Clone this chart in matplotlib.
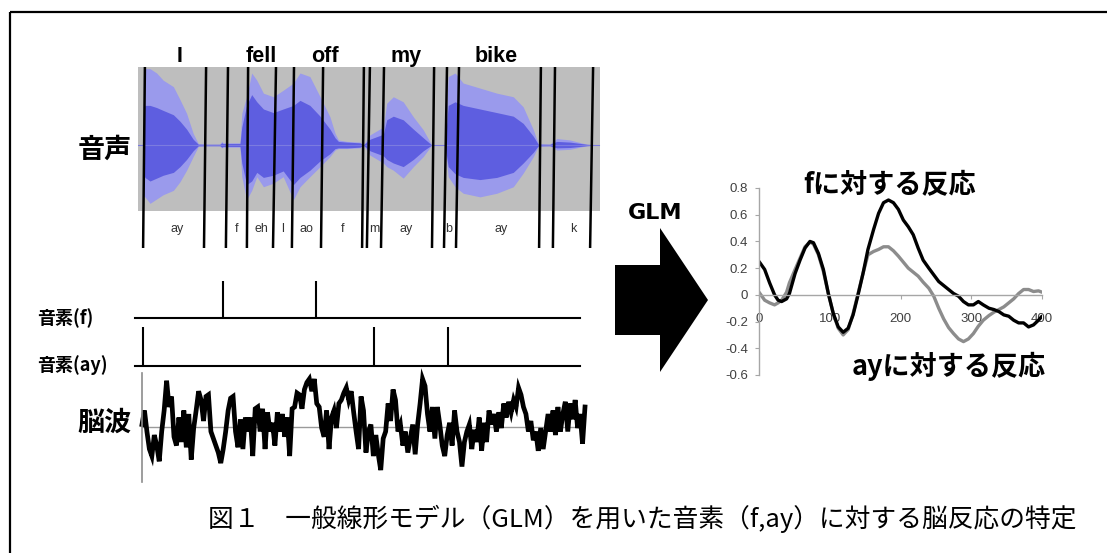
import matplotlib

matplotlib.use("Agg")
import matplotlib.pyplot as plt
import numpy as np
from matplotlib.patches import Polygon

plt.rcParams["font.family"] = ["Noto Sans CJK JP", "DejaVu Sans"]

W, H = 1107, 553

# --- 音声: 包絡 (時間 s, 正規化振幅) ---
wave_t = [0.018, 0.023, 0.040, 0.062, 0.084, 0.118, 0.140, 0.162, 0.184, 0.201,
          0.229, 0.273, 0.279, 0.284, 0.340, 0.346, 0.362, 0.379, 0.396, 0.418,
          0.451, 0.484, 0.518, 0.540, 0.573, 0.607, 0.640, 0.657, 0.668, 0.696,
          0.740, 0.751, 0.773, 0.818, 0.829, 0.851, 0.884, 0.918, 0.951, 0.979,
          1.023, 1.034, 1.057, 1.084, 1.140, 1.196, 1.251, 1.284, 1.318, 1.334,
          1.373, 1.396, 1.440, 1.496, 1.540]
outer_up = [0.95, 1.06, 1.06, 1.00, 0.90, 0.81, 0.63, 0.44, 0.16, 0.02,
            0.01, 0.01, 0.05, 0.03, 0.03, 0.44, 0.67, 1.00, 0.90, 0.72,
            0.67, 0.76, 0.86, 1.00, 0.95, 0.67, 0.39, 0.16, 0.07, 0.05,
            0.04, 0.00, 0.14, 0.25, 0.58, 0.67, 0.60, 0.39, 0.21, 0.00,
            0.00, 0.95, 1.00, 0.86, 0.79, 0.72, 0.67, 0.53, 0.21, 0.02,
            0.01, 0.09, 0.07, 0.01, 0.00]
outer_lo = [-0.70, -0.72, -0.81, -0.75, -0.69, -0.63, -0.51, -0.35, -0.16, -0.02,
            -0.01, -0.01, -0.04, -0.03, -0.03, -0.44, -0.76, -0.63, -0.44, -0.58,
            -0.53, -0.44, -0.76, -0.58, -0.44, -0.30, -0.16, -0.07, -0.05, -0.05,
            -0.04, 0.00, -0.14, -0.25, -0.30, -0.35, -0.46, -0.30, -0.16, 0.00,
            0.00, -0.44, -0.58, -0.67, -0.72, -0.67, -0.58, -0.39, -0.16, -0.02,
            -0.01, -0.07, -0.06, -0.01, 0.00]
inner_up = [0.45, 0.55, 0.55, 0.52, 0.48, 0.42, 0.33, 0.22, 0.08, 0.01,
            0.01, 0.01, 0.03, 0.02, 0.02, 0.25, 0.55, 0.70, 0.60, 0.50,
            0.45, 0.50, 0.55, 0.62, 0.55, 0.40, 0.22, 0.10, 0.05, 0.04,
            0.03, 0.00, 0.08, 0.15, 0.35, 0.40, 0.35, 0.22, 0.10, 0.00,
            0.00, 0.55, 0.60, 0.55, 0.50, 0.45, 0.40, 0.30, 0.12, 0.01,
            0.01, 0.05, 0.04, 0.01, 0.00]
inner_lo = [-0.38, -0.45, -0.50, -0.46, -0.42, -0.38, -0.30, -0.20, -0.08, -0.01,
            -0.01, -0.01, -0.03, -0.02, -0.02, -0.25, -0.55, -0.50, -0.38, -0.45,
            -0.42, -0.36, -0.55, -0.45, -0.35, -0.22, -0.12, -0.05, -0.04, -0.04,
            -0.03, 0.00, -0.08, -0.15, -0.20, -0.25, -0.30, -0.20, -0.08, 0.00,
            0.00, -0.30, -0.40, -0.45, -0.48, -0.45, -0.38, -0.25, -0.10, -0.01,
            -0.01, -0.04, -0.035, -0.01, 0.00]

# 音素境界 (上端 / 下端, s)
bound_top = [0.023, 0.227, 0.300, 0.367, 0.460, 0.520, 0.617, 0.753,
             0.773, 0.820, 0.987, 1.030, 1.070, 1.343, 1.390, 1.517]
bound_bot = [0.017, 0.220, 0.293, 0.363, 0.450, 0.513, 0.610, 0.747,
             0.763, 0.810, 0.980, 1.020, 1.060, 1.337, 1.383, 1.507]

words = ["I", "fell", "off", "my", "bike"]
word_t = [0.137, 0.41, 0.623, 0.893, 1.193]
phonemes = ["ay", "f", "eh", "l", "ao", "f", "m", "ay", "b", "ay", "k"]
phone_t = [0.13, 0.327, 0.41, 0.483, 0.563, 0.683, 0.787, 0.893, 1.037, 1.21, 1.45]

# 音素のオンセット (s)
f_onsets = [0.305, 0.626]
ay_onsets = [0.028, 0.827, 1.083]

# 脳波 (µV, 等間隔サンプル)
eeg = [0.7, 4.7, -1.3, -6.3, -8.3, -2.3, -5.3, -9.8, -1.3, 4.7,
       13.2, 5.7, 8.7, -2.8, -5.3, 2.7, -4.3, 4.7, -5.8, 3.7,
       -9.3, -0.3, 4.7, 10.2, 7.7, 1.7, 8.7, 9.2, -1.3, -3.3,
       -5.3, -7.3, -10.3, -6.3, -1.3, 4.7, 8.2, 8.7, -1.3, -5.8,
       2.2, -6.3, 2.7, -1.3, 2.7, -8.3, 5.2, 5.7, -1.3, 5.2,
       -6.3, 4.2, -1.3, 1.2, -5.3, 4.2, -1.3, 3.7, -2.8, 2.7,
       -8.3, 5.2, 5.7, 9.7, 9.2, 5.2, 10.7, 12.7, 13.7, 10.2,
       13.7, 6.7, 5.7, -0.3, -2.8, 4.7, -6.3, 2.7, 4.7, -0.3,
       6.7, 7.7, 9.7, 11.2, 7.7, 10.2, 4.2, -1.3, -6.3, 8.7,
       4.7, -7.3, -1.3, 0.7, -8.3, -2.3, -7.8, -12.3, -3.3, -1.3,
       6.7, 1.7, 10.7, 7.7, -1.3, 0.7, -5.3, -1.3, -7.3, -3.3,
       0.7, -7.8, 0.7, 6.7, 13.7, 11.7, 3.7, -1.3, 5.7, -3.3,
       5.7, 0.7, -5.3, -8.3, -2.3, 1.2, -5.3, 4.7, -1.3, -4.3,
       -11.3, -4.3, -1.3, 0.7, -6.3, -0.8, -4.3, 2.7, -6.8, 1.2,
       -4.3, 4.7, 0.7, 3.7, -1.3, 4.2, -0.3, 6.7, 2.7, 7.2,
       4.2, 7.7, 5.7, 11.2, 9.2, 5.7, 3.7, -1.3, 1.7, -3.8,
       -1.3, -6.8, -0.3, -6.3, -1.3, 3.7, -1.3, 4.7, -2.3, 5.7,
       -1.3, 3.7, 7.2, -1.3, 6.7, 2.2, 7.7, -0.3, 3.7, -4.8,
       5.7]

# GLM で推定した応答 (ms)
resp_ms = [0, 8, 15, 22, 27, 32, 39, 43, 51, 58,
           65, 72, 77, 84, 91, 98, 105, 112, 119, 126,
           133, 140, 147, 154, 162, 169, 176, 183, 190, 197,
           204, 211, 218, 225, 232, 240, 247, 254, 261, 268,
           275, 282, 289, 296, 303, 310, 317, 325, 332, 339,
           346, 353, 360, 367, 374, 381, 388, 395, 400]
f_resp = [0.25, 0.19, 0.09, 0.00, -0.04, -0.05, -0.03, 0.01, 0.16, 0.26,
          0.35, 0.40, 0.39, 0.31, 0.19, 0.01, -0.14, -0.24, -0.28, -0.25,
          -0.15, 0.00, 0.16, 0.34, 0.49, 0.61, 0.69, 0.71, 0.69, 0.64,
          0.56, 0.51, 0.45, 0.35, 0.26, 0.20, 0.15, 0.10, 0.07, 0.04,
          0.01, -0.01, -0.05, -0.075, -0.075, -0.05, -0.075, -0.10, -0.11, -0.125,
          -0.15, -0.16, -0.19, -0.21, -0.21, -0.24, -0.225, -0.19, -0.16]
ay_resp = [0.02, -0.04, -0.06, -0.075, -0.06, -0.04, 0.02, 0.09, 0.19, 0.275,
           0.36, 0.395, 0.38, 0.30, 0.175, 0.01, -0.14, -0.25, -0.30, -0.26,
           -0.14, 0.01, 0.16, 0.30, 0.325, 0.34, 0.36, 0.36, 0.33, 0.29,
           0.245, 0.20, 0.17, 0.14, 0.095, 0.05, -0.01, -0.10, -0.18, -0.245,
           -0.29, -0.33, -0.35, -0.33, -0.29, -0.235, -0.19, -0.155, -0.13, -0.11,
           -0.09, -0.06, -0.03, 0.01, 0.04, 0.04, 0.025, 0.03, 0.02]
y_ticks = [-0.6, -0.4, -0.2, 0, 0.2, 0.4, 0.6, 0.8]
y_ticklabels = ["-0.6", "-0.4", "-0.2", "0", "0.2", "0.4", "0.6", "0.8"]
x_ticks = [0, 100, 200, 300, 400]


def px_axes(fig, x0, y0, x1, y1):
    """ピクセル座標 (左上原点) で axes を置く"""
    return fig.add_axes([x0 / W, 1 - y1 / H, (x1 - x0) / W, (y1 - y0) / H])


fig = plt.figure(figsize=(W / 100, H / 100), dpi=100)

# 枠と大きなラベル用のオーバーレイ
ov = fig.add_axes([0, 0, 1, 1])
ov.set_xlim(0, W)
ov.set_ylim(H, 0)
ov.axis("off")
ov.plot([10, W], [12, 12], color="black", lw=1.6, solid_capstyle="butt")
ov.plot([10, 10], [12, H], color="black", lw=1.6, solid_capstyle="butt")

big = dict(fontsize=19.5, fontweight="bold", va="center")
ov.text(132, 150, "音声", ha="right", **big)
ov.text(132, 423, "脳波", ha="right", **big)
ov.text(803, 185, "fに対する反応", ha="left", **big)
ov.text(852, 366, "ayに対する反応", ha="left", **big)
ov.text(655, 213, "GLM", ha="center", va="center", fontsize=16,
        fontweight="bold", family="DejaVu Sans")

small = dict(fontsize=13, fontweight="bold", va="center", ha="left")
ov.text(37, 318, "音素(f)", **small)
ov.text(37, 365, "音素(ay)", **small)

ov.add_patch(Polygon([(615, 265), (660, 265), (660, 228), (708, 300),
                      (660, 372), (660, 335), (615, 335)],
                     closed=True, facecolor="black", edgecolor="none"))

ov.text(642, 519, "図１　一般線形モデル（GLM）を用いた音素（f,ay）に対する脳反応の特定",
        ha="center", va="center", fontsize=18.5)

# --- 音声波形 ---
ax_w = px_axes(fig, 138, 67, 600, 248)
ax_w.set_xlim(0, 1.54)
ax_w.set_ylim(-1.43, 1.083)
ax_w.axis("off")
ax_w.axhspan(-0.92, 1.083, color="#bebebe", lw=0, zorder=0)
ax_w.fill_between(wave_t, outer_lo, outer_up, color="#9a9aec", lw=0, zorder=1)
ax_w.fill_between(wave_t, inner_lo, inner_up, color="#5e5ee0", lw=0, zorder=2)
ax_w.plot([0, 1.54], [0, 0], color="#7b7be0", lw=0.8, zorder=2)
for t0, t1 in zip(bound_top, bound_bot):
    ax_w.plot([t0, t1], [1.083, -1.43], color="black", lw=1.8, zorder=3,
              solid_capstyle="butt")
for w, t in zip(words, word_t):
    ax_w.text(t, 1.153, w, ha="center", va="baseline", fontsize=15.5,
              fontweight="bold", family="Liberation Sans", clip_on=False)
for p, t in zip(phonemes, phone_t):
    ax_w.text(t, -1.21, p, ha="center", va="baseline", fontsize=9,
              color="#333333", family="Liberation Sans", zorder=4)

# --- 音素インパルス列 ---
for (y0, y1), onsets in [((281, 318), f_onsets), ((327, 366), ay_onsets)]:
    ax_i = px_axes(fig, 135, y0, 580, y1)
    ax_i.set_xlim(0, 1.54)
    ax_i.set_ylim(0, 1)
    ax_i.axis("off")
    ax_i.plot([0, 1.54], [0, 0], color="black", lw=1.5, clip_on=False)
    ax_i.vlines(onsets, 0, 1, color="black", lw=1.5, clip_on=False)

# --- 脳波 ---
ax_e = px_axes(fig, 142, 373, 585, 482)
ax_e.set_xlim(0, len(eeg) - 1)
ax_e.set_ylim(-15.7, 15.4)
for s in ["top", "right", "bottom"]:
    ax_e.spines[s].set_visible(False)
ax_e.spines["left"].set_color("#8c8c8c")
ax_e.spines["left"].set_linewidth(1.2)
ax_e.set_xticks([])
ax_e.set_yticks([])
ax_e.patch.set_visible(False)
ax_e.axhline(0, color="#9a9a9a", lw=1.0)
ax_e.plot(np.arange(len(eeg)), eeg, color="black", lw=3.4, clip_on=False,
          solid_joinstyle="miter")

# --- 応答関数 ---
ax_r = px_axes(fig, 759, 188, 1042, 375)
ax_r.set_xlim(0, 400)
ax_r.set_ylim(-0.6, 0.8)
ax_r.patch.set_visible(False)
for s in ["top", "right"]:
    ax_r.spines[s].set_visible(False)
ax_r.spines["bottom"].set_position(("data", 0))
for s in ["left", "bottom"]:
    ax_r.spines[s].set_color("#a6a6a6")
    ax_r.spines[s].set_linewidth(1.0)
ax_r.plot(resp_ms, ay_resp, color="#8c8c8c", lw=2.4, solid_capstyle="round")
ax_r.plot(resp_ms, f_resp, color="black", lw=2.4, solid_capstyle="round")
ax_r.set_yticks(y_ticks)
ax_r.set_yticklabels(y_ticklabels)
ax_r.set_xticks(x_ticks)
ax_r.set_xticklabels([str(v) for v in x_ticks])
ax_r.tick_params(axis="both", colors="#a6a6a6", labelcolor="#404040",
                 labelsize=9.5, length=3, width=0.8)
ax_r.tick_params(axis="x", pad=10)
ax_r.tick_params(axis="y", pad=5)
for lab in ax_r.get_xticklabels() + ax_r.get_yticklabels():
    lab.set_family("Liberation Sans")

fig.savefig("out.png", dpi=100)
